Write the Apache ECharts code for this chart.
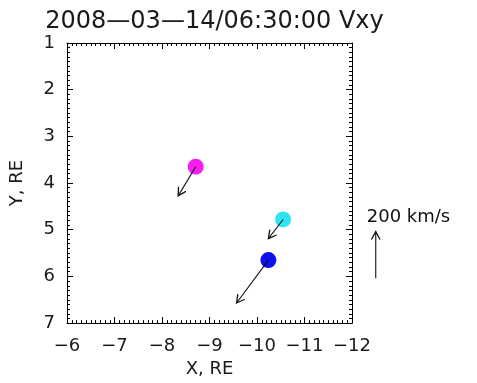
<!DOCTYPE html>
<html>
<head>
<meta charset="utf-8">
<script src="https://cdn.jsdelivr.net/npm/echarts@6/dist/echarts.min.js"></script>
<style>
html,body{margin:0;padding:0;background:#fff;}
#chart{width:477px;height:383px;}
</style>
</head>
<body>
<div id="chart"></div>
<script>
// ---- data ----
const titleText = '2008\u201403\u201414/06:30:00 Vxy';
const xName = 'X, RE';
const yName = 'Y, RE';
const probeColors = ['#f81ef0', '#2ee4f2', '#0a10ee'];
const posX = [-8.71, -10.55, -10.24];   // RE
const posY = [3.65, 4.78, 5.65];        // RE
const velX = [74, 62, 134];             // km/s (toward larger X)
const velY = [125, 82, 184];            // km/s (toward larger Y)
const KMS_PER_RE = 200;                 // arrow scale: 200 km/s per RE
const scaleArrow = [[-12.5, 6.04, 0, -200]]; // reference arrow x, y, vx, vy
const scaleLabel = '200 km/s';

const minusFmt = v => (v < 0 ? '\u2212' + Math.abs(v) : String(v));
const FONT = 'DejaVu Sans';

function arrowGroup(api, withLabel) {
  const x = api.value(0), y = api.value(1), vx = api.value(2), vy = api.value(3);
  const p0 = api.coord([x, y]);
  const p1 = api.coord([x + vx / KMS_PER_RE, y + vy / KMS_PER_RE]);
  const ang = Math.atan2(p1[1] - p0[1], p1[0] - p0[0]);
  const h = 9, a = 0.5;
  const l = [p1[0] - h * Math.cos(ang - a), p1[1] - h * Math.sin(ang - a)];
  const r = [p1[0] - h * Math.cos(ang + a), p1[1] - h * Math.sin(ang + a)];
  const children = [
    {type: 'line', shape: {x1: p0[0], y1: p0[1], x2: p1[0], y2: p1[1]}, style: {stroke: '#111', lineWidth: 1.1}},
    {type: 'polyline', shape: {points: [l, p1, r]}, style: {stroke: '#111', fill: null, lineWidth: 1.3}}
  ];
  if (withLabel) {
    children.push({type: 'text', x: p1[0] - 9, y: p1[1] - 14,
      style: {text: scaleLabel, fill: '#111', font: '18px "' + FONT + '"', align: 'left', verticalAlign: 'middle'}});
  }
  return {type: 'group', children: children};
}

const baseX = {
  type: 'value', min: -12, max: -6, interval: 1, inverse: true,
  axisLine: {show: true, onZero: false, lineStyle: {color: '#000', width: 1}},
  axisTick: {show: true, inside: true, length: 6, lineStyle: {color: '#000'}},
  minorTick: {show: true, splitNumber: 10, length: 3, lineStyle: {color: '#000'}},
  splitLine: {show: false}
};
const baseY = {
  type: 'value', min: 1, max: 7, interval: 1, inverse: true,
  axisLine: {show: true, onZero: false, lineStyle: {color: '#000', width: 1}},
  axisTick: {show: true, inside: true, length: 6, lineStyle: {color: '#000'}},
  minorTick: {show: true, splitNumber: 10, length: 3, lineStyle: {color: '#000'}},
  splitLine: {show: false}
};

const chart = echarts.init(document.getElementById('chart'), null, {renderer: 'canvas'});
chart.setOption({
  animation: false,
  backgroundColor: '#fff',
  title: {
    text: titleText, left: 209.5, top: 5, textAlign: 'center',
    textStyle: {fontFamily: FONT, fontSize: 24, fontWeight: 'normal', color: '#1a1a1a'}
  },
  grid: {left: 67, top: 43, width: 285, height: 282, containLabel: false},
  xAxis: [
    Object.assign({}, baseX, {
      position: 'bottom', name: xName, nameLocation: 'middle', nameGap: 30,
      nameTextStyle: {fontFamily: FONT, fontSize: 18, color: '#1a1a1a'},
      axisLabel: {show: true, margin: 14, fontFamily: FONT, fontSize: 18, color: '#1a1a1a', formatter: minusFmt}
    }),
    Object.assign({}, baseX, {position: 'top', axisLabel: {show: false}})
  ],
  yAxis: [
    Object.assign({}, baseY, {
      position: 'left', name: yName, nameLocation: 'middle', nameGap: 41, nameRotate: 90,
      nameTextStyle: {fontFamily: FONT, fontSize: 18, color: '#1a1a1a'},
      axisLabel: {show: true, margin: 12, fontFamily: FONT, fontSize: 18, color: '#1a1a1a', formatter: minusFmt}
    }),
    Object.assign({}, baseY, {position: 'right', axisLabel: {show: false}})
  ],
  series: [
    {
      type: 'scatter', xAxisIndex: 0, yAxisIndex: 0, symbol: 'circle', symbolSize: 16, z: 2,
      data: posX.map((x, i) => ({value: [x, posY[i]], itemStyle: {color: probeColors[i], opacity: 1}}))
    },
    {
      type: 'custom', xAxisIndex: 0, yAxisIndex: 0, z: 3,
      data: posX.map((x, i) => [x, posY[i], velX[i], velY[i]]),
      renderItem: (params, api) => arrowGroup(api, false)
    },
    {
      type: 'custom', xAxisIndex: 0, yAxisIndex: 0, z: 3, clip: false,
      data: scaleArrow,
      renderItem: (params, api) => arrowGroup(api, true)
    }
  ]
});
</script>
</body>
</html>
